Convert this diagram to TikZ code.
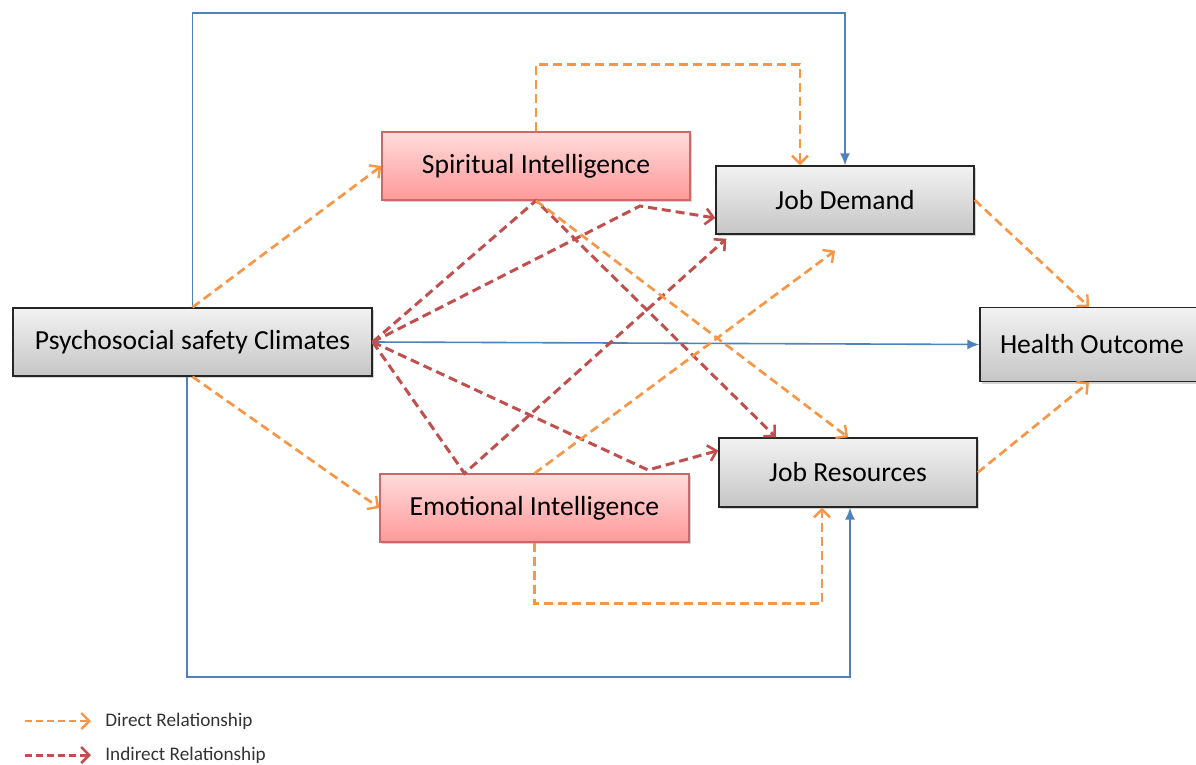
\documentclass[tikz,border=0pt]{standalone}
\usepackage{fontspec}
\setmainfont{Carlito}
\usepackage{tikz}
\usetikzlibrary{calc,positioning,arrows.meta,shadows}
\definecolor{dirorange}{HTML}{F79646}
\definecolor{indred}{HTML}{C0504D}
\definecolor{linkblue}{HTML}{4F81BD}
\tikzset{
  % solid blue links
  link/.style={-{Latex[length=6pt,width=5pt]}, linkblue, line width=0.8pt},
  % dashed arrows
  direct/.style={-{Straight Barb[length=4pt,width=8pt,line width=1.2pt]}, dirorange, line width=1.35pt, dash pattern=on 4.5pt off 2.5pt},
  indirect/.style={-{Straight Barb[length=4pt,width=8pt,line width=1.3pt]}, indred, line width=1.5pt, dash pattern=on 4.5pt off 2.5pt},
  box/.style={draw, align=center, inner sep=3pt, font=\fontsize{13.8}{16}\selectfont,
    drop shadow={opacity=0.35, shadow xshift=1.2pt, shadow yshift=-1.2pt}},
  graybox/.style={box, draw=black!85, line width=0.7pt, top color=gray!10, bottom color=gray!45},
  pinkbox/.style={box, draw=indred!85, line width=0.6pt, top color=red!14, bottom color=red!40},
  legend/.style={anchor=west, inner sep=2pt, font=\fontsize{9.6}{11}\selectfont, text=black!80}
}
\begin{document}
\begin{tikzpicture}[x=0.5pt, y=-0.5pt]
  \useasboundingbox (0,0) rectangle (1196,765);
  % boxes
  \node[graybox, minimum width=179.5pt, minimum height=34pt] (PSC) at (192.5,342) {Psychosocial safety Climates};
  \node[pinkbox, minimum width=154pt, minimum height=34pt] (SI) at (536,166) {Spiritual Intelligence};
  \node[pinkbox, minimum width=154.5pt, minimum height=34pt] (EI) at (534.5,508) {Emotional Intelligence};
  \node[graybox, minimum width=129pt, minimum height=34pt] (JD) at (845,200) {Job Demand};
  \node[graybox, minimum width=129pt, minimum height=34.5pt] (JR) at (848,472.5) {Job Resources};
  \node[graybox, minimum width=112pt, minimum height=37pt] (HO) at (1092,344.5) {Health Outcome};

  % bend points of the indirect paths
  \coordinate (kneeJD) at (640,206);
  \coordinate (kneeJR) at (648,470);
  \coordinate (EIend) at ($(JD.south)+(-5pt,-8pt)$);

  % blue links
  \draw[link] (PSC.north) -- ++(0,-294) -| (JD.north);
  \draw[link] ([xshift=-2.75pt]PSC.south) -- ++(0,300) -| ([xshift=1pt]JR.south);
  \draw[link] (PSC.east) -- (HO.west);

  % indirect paths
  \draw[indirect] (PSC.east) -- (SI.south) -- ([xshift=-36pt]JR.north);
  \draw[indirect] (PSC.east) -- (kneeJD) -- ([yshift=-9pt]JD.west);
  \draw[indirect] (PSC.east) -- ([xshift=-35pt]EI.north) -- ([xshift=5.5pt,yshift=-2pt]JD.south west);
  \draw[indirect] (PSC.east) -- (kneeJR) -- ([yshift=11pt]JR.west);

  % direct paths
  \draw[direct] (PSC.north) -- (SI.west);
  \draw[direct] (PSC.south) -- (EI.west);
  \draw[direct] (SI.north) -- ++(0,-67) -| ([xshift=-22.5pt]JD.north);
  \draw[direct] (EI.south) -- ++(0,61) -| ([xshift=-13pt]JR.south);
  \draw[direct] (SI.south) -- (JR.north);
  \draw[direct] (EI.north) -- (EIend);
  \draw[direct] (JD.east) -- ([xshift=-1.5pt]HO.north);
  \draw[direct] (JR.east) -- ([xshift=-1.5pt]HO.south);

  % legend
  \coordinate (dstart) at (25,721);
  \node[legend, right=38pt of dstart] (dtxt) {Direct Relationship};
  \draw[direct, dash pattern=on 3.5pt off 2pt] (dstart) -- ([xshift=-5pt]dtxt.west);
  \coordinate (istart) at (25,755);
  \node[legend, right=38pt of istart] (itxt) {Indirect Relationship};
  \draw[indirect, dash pattern=on 3.5pt off 2pt] (istart) -- ([xshift=-5pt]itxt.west);
\end{tikzpicture}
\end{document}
